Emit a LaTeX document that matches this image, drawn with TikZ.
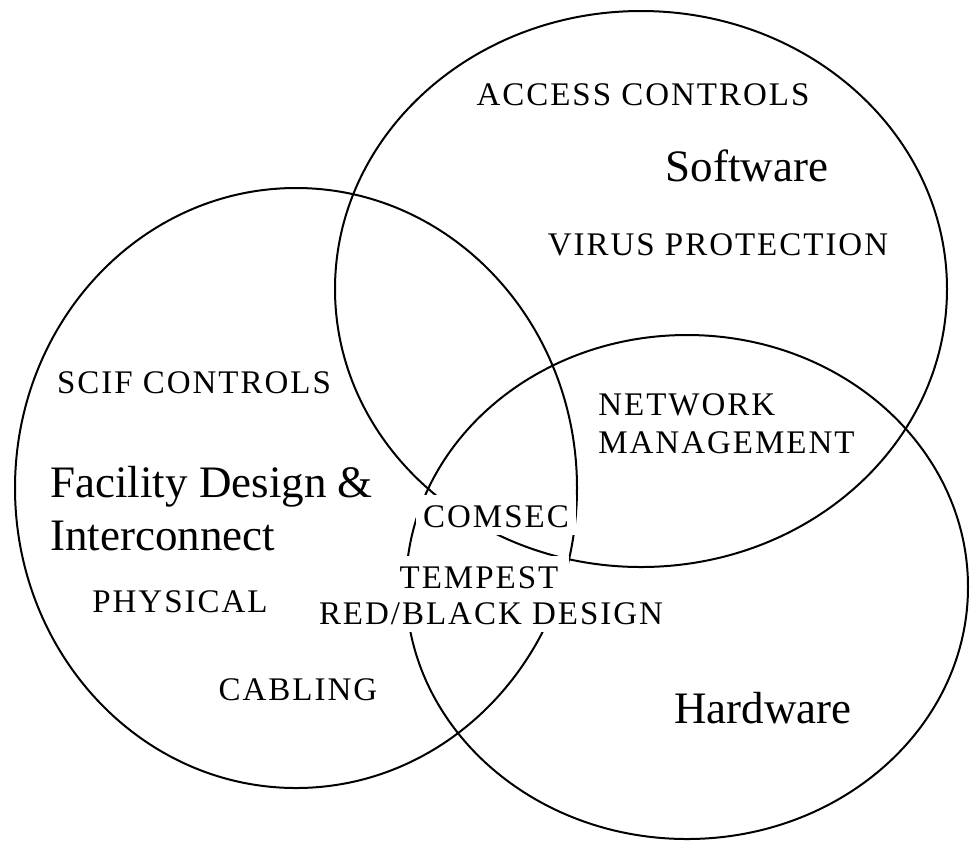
\documentclass[tikz,border=0pt]{standalone}
\usepackage{fontspec}
\setmainfont{Liberation Serif}
\newfontfamily\capsfont[LetterSpace=6]{Liberation Serif}
\usetikzlibrary{shapes.geometric}

\begin{document}
\begin{tikzpicture}[x=0.5pt, y=-0.5pt,
    set/.style={ellipse, draw, line width=1pt, inner sep=0pt},
    title/.style={font=\fontsize{22.5}{27}\selectfont, inner sep=0pt},
    item/.style={font=\capsfont\fontsize{16.5}{18}\selectfont, inner sep=0pt},
    masked/.style={fill=white, inner xsep=3.5pt, inner ysep=4pt}
]
    \useasboundingbox (0,0) rectangle (970,843);

    % The three sets
    \node[set, minimum width=306pt, minimum height=278pt] (soft) at (641,289) {};
    \node[set, minimum width=281pt, minimum height=300pt] (fac) at (296,488) {};
    \node[set, minimum width=281pt, minimum height=252pt] (hard) at (687,587) {};

    % --- Software ---
    \node[item, anchor=base] (access) at (643,105) {ACCESS CONTROLS};
    \node[title, anchor=base] (softname) at (747,181) {Software};
    \node[item, anchor=base] (virus) at (718,255) {VIRUS PROTECTION};

    % --- Facility Design & Interconnect ---
    \node[item, anchor=base] (scif) at (194,393) {SCIF CONTROLS};
    \node[title, anchor=base west] (facname) at (50,497) {Facility Design \&};
    \node[title, anchor=base west] (facname2) at (50,550) {Interconnect};
    \node[item, anchor=base] (physical) at (180,612) {PHYSICAL};
    \node[item, anchor=base] (cabling) at (298,700) {CABLING};

    % --- Hardware ---
    \node[title, anchor=base] (hardname) at (763,723) {Hardware};

    % --- Overlaps (labels blank out the lines behind them) ---
    \node[item, anchor=base west] (network) at (598,415) {NETWORK};
    \node[item, anchor=base west] (mgmt) at (598,453) {MANAGEMENT};
    \node[item, masked, text height=12pt, anchor=base] (comsec) at (496,527) {COMSEC};
    \node[item, masked, inner xsep=5.5pt, text height=12pt, anchor=base] (tempest) at (479,588) {TEMPEST};
    \node[item, masked, anchor=base] (redblack) at (491,624) {RED/BLACK DESIGN};

\end{tikzpicture}
\end{document}
